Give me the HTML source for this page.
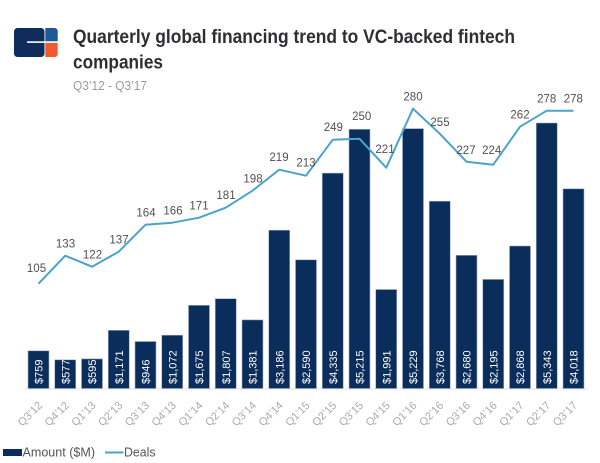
<!DOCTYPE html>
<html>
<head>
<meta charset="utf-8">
<style>
html,body{margin:0;padding:0;background:#fff;}
svg{display:block;}
text{font-family:"Liberation Sans",Arial,sans-serif;}
</style>
</head>
<body>
<svg width="600" height="463" viewBox="0 0 600 463" xmlns="http://www.w3.org/2000/svg">
<rect width="600" height="463" fill="#fff"/>
<!-- logo -->
<rect x="14" y="28" width="30.5" height="29" rx="3.5" fill="#0e2d5a"/>
<rect x="27" y="41.3" width="17.5" height="1.6" fill="#fff"/>
<path d="M45.3 28 H54.5 A3.2 3.2 0 0 1 57.7 31.2 V41.2 H45.3 Z" fill="#1a5b98"/>
<path d="M45.3 42.9 H57.7 V53.8 A3.2 3.2 0 0 1 54.5 57 H45.3 Z" fill="#f15a2c"/>
<!-- title -->
<text x="73" y="43" font-size="19.5" font-weight="bold" fill="#2e2e33" textLength="442" lengthAdjust="spacingAndGlyphs">Quarterly global financing trend to VC-backed fintech</text>
<text x="73" y="68.5" font-size="19.5" font-weight="bold" fill="#2e2e33" textLength="90" lengthAdjust="spacingAndGlyphs">companies</text>
<text x="73" y="90" font-size="13" fill="#9a9a9a" textLength="74" lengthAdjust="spacingAndGlyphs">Q3’12 - Q3’17</text>

<!-- baseline -->
<line x1="25" y1="389" x2="588" y2="389" stroke="#e3e3e3" stroke-width="1"/>

<!-- bars -->
<g fill="#0a2d5b" stroke="#9fb0c8" stroke-width="0.6">
<rect x="28" y="350.8" width="21" height="37.7"/>
<rect x="54.75" y="359.8" width="21" height="28.7"/>
<rect x="81.5" y="358.9" width="21" height="29.6"/>
<rect x="108.25" y="330.3" width="21" height="58.2"/>
<rect x="135" y="341.5" width="21" height="47"/>
<rect x="161.75" y="335.2" width="21" height="53.3"/>
<rect x="188.5" y="305.3" width="21" height="83.2"/>
<rect x="215.25" y="298.7" width="21" height="89.8"/>
<rect x="242" y="319.9" width="21" height="68.6"/>
<rect x="268.75" y="230.2" width="21" height="158.3"/>
<rect x="295.5" y="259.8" width="21" height="128.7"/>
<rect x="322.25" y="173.1" width="21" height="215.4"/>
<rect x="349" y="129.3" width="21" height="259.2"/>
<rect x="375.75" y="289.5" width="21" height="99"/>
<rect x="402.5" y="128.6" width="21" height="259.9"/>
<rect x="429.25" y="201.2" width="21" height="187.3"/>
<rect x="456" y="255.3" width="21" height="133.2"/>
<rect x="482.75" y="279.4" width="21" height="109.1"/>
<rect x="509.5" y="246" width="21" height="142.5"/>
<rect x="536.25" y="123" width="21" height="265.5"/>
<rect x="563" y="188.8" width="21" height="199.7"/>
</g>

<!-- bar value labels -->
<g font-size="11" fill="#ffffff">
<text transform="translate(42.5,384) rotate(-90)">$759</text>
<text transform="translate(69.25,384) rotate(-90)">$577</text>
<text transform="translate(96,384) rotate(-90)">$595</text>
<text transform="translate(122.75,384) rotate(-90)">$1,171</text>
<text transform="translate(149.5,384) rotate(-90)">$946</text>
<text transform="translate(176.25,384) rotate(-90)">$1,072</text>
<text transform="translate(203,384) rotate(-90)">$1,675</text>
<text transform="translate(229.75,384) rotate(-90)">$1,807</text>
<text transform="translate(256.5,384) rotate(-90)">$1,381</text>
<text transform="translate(283.25,384) rotate(-90)">$3,186</text>
<text transform="translate(310,384) rotate(-90)">$2,590</text>
<text transform="translate(336.75,384) rotate(-90)">$4,335</text>
<text transform="translate(363.5,384) rotate(-90)">$5,215</text>
<text transform="translate(390.25,384) rotate(-90)">$1,991</text>
<text transform="translate(417,384) rotate(-90)">$5,229</text>
<text transform="translate(443.75,384) rotate(-90)">$3,768</text>
<text transform="translate(470.5,384) rotate(-90)">$2,680</text>
<text transform="translate(497.25,384) rotate(-90)">$2,195</text>
<text transform="translate(524,384) rotate(-90)">$2,868</text>
<text transform="translate(550.75,384) rotate(-90)">$5,343</text>
<text transform="translate(577.5,384) rotate(-90)">$4,018</text>
</g>

<!-- deals line -->
<polyline fill="none" stroke="#4ba3c9" stroke-width="2" stroke-linejoin="round" points="38.5,283.7 65.25,255.7 92,266.7 118.75,251.7 145.5,224.7 172.25,222.7 199,217.7 225.75,207.7 252.5,190.7 279.25,169.7 306,175.7 332.75,139.7 359.5,138.7 386.25,167.7 413,108.7 439.75,133.7 466.5,161.7 493.25,164.7 520,126.7 546.75,110.7 573.5,110.7"/>

<!-- deal labels -->
<g font-size="11.5" fill="#505050" text-anchor="middle">
<text x="36.5" y="272">105</text>
<text x="65.5" y="247.5">133</text>
<text x="92.5" y="258.5">122</text>
<text x="119" y="243.5">137</text>
<text x="146" y="216.5">164</text>
<text x="173" y="214.5">166</text>
<text x="199" y="209.5">171</text>
<text x="226" y="199">181</text>
<text x="253" y="182.5">198</text>
<text x="279" y="161">219</text>
<text x="306" y="166.5">213</text>
<text x="333.3" y="131">249</text>
<text x="361.7" y="120">250</text>
<text x="385" y="153">221</text>
<text x="413" y="100.7">280</text>
<text x="440" y="126">255</text>
<text x="466" y="154">227</text>
<text x="491.7" y="154">224</text>
<text x="520" y="118.3">262</text>
<text x="546.7" y="102.7">278</text>
<text x="573.3" y="102.7">278</text>
</g>

<!-- x axis labels -->
<g font-size="11" fill="#ababab" text-anchor="end">
<text transform="translate(43,406) rotate(-45)">Q3’12</text>
<text transform="translate(69.75,406) rotate(-45)">Q4’12</text>
<text transform="translate(96.5,406) rotate(-45)">Q1’13</text>
<text transform="translate(123.25,406) rotate(-45)">Q2’13</text>
<text transform="translate(150,406) rotate(-45)">Q3’13</text>
<text transform="translate(176.75,406) rotate(-45)">Q4’13</text>
<text transform="translate(203.5,406) rotate(-45)">Q1’14</text>
<text transform="translate(230.25,406) rotate(-45)">Q2’14</text>
<text transform="translate(257,406) rotate(-45)">Q3’14</text>
<text transform="translate(283.75,406) rotate(-45)">Q4’14</text>
<text transform="translate(310.5,406) rotate(-45)">Q1’15</text>
<text transform="translate(337.25,406) rotate(-45)">Q2’15</text>
<text transform="translate(364,406) rotate(-45)">Q3’15</text>
<text transform="translate(390.75,406) rotate(-45)">Q4’15</text>
<text transform="translate(417.5,406) rotate(-45)">Q1’16</text>
<text transform="translate(444.25,406) rotate(-45)">Q2’16</text>
<text transform="translate(471,406) rotate(-45)">Q3’16</text>
<text transform="translate(497.75,406) rotate(-45)">Q4’16</text>
<text transform="translate(524.5,406) rotate(-45)">Q1’17</text>
<text transform="translate(551.25,406) rotate(-45)">Q2’17</text>
<text transform="translate(578,406) rotate(-45)">Q3’17</text>
</g>

<!-- legend -->
<rect x="3" y="449" width="19" height="7" fill="#0a2d5b"/>
<text x="22.5" y="456.5" font-size="12.5" fill="#555" textLength="72.5" lengthAdjust="spacingAndGlyphs">Amount ($M)</text>
<line x1="105" y1="452.5" x2="123.5" y2="452.5" stroke="#4ba3c9" stroke-width="2"/>
<text x="124" y="456.5" font-size="12.5" fill="#555" textLength="31.5" lengthAdjust="spacingAndGlyphs">Deals</text>
</svg>
</body>
</html>
